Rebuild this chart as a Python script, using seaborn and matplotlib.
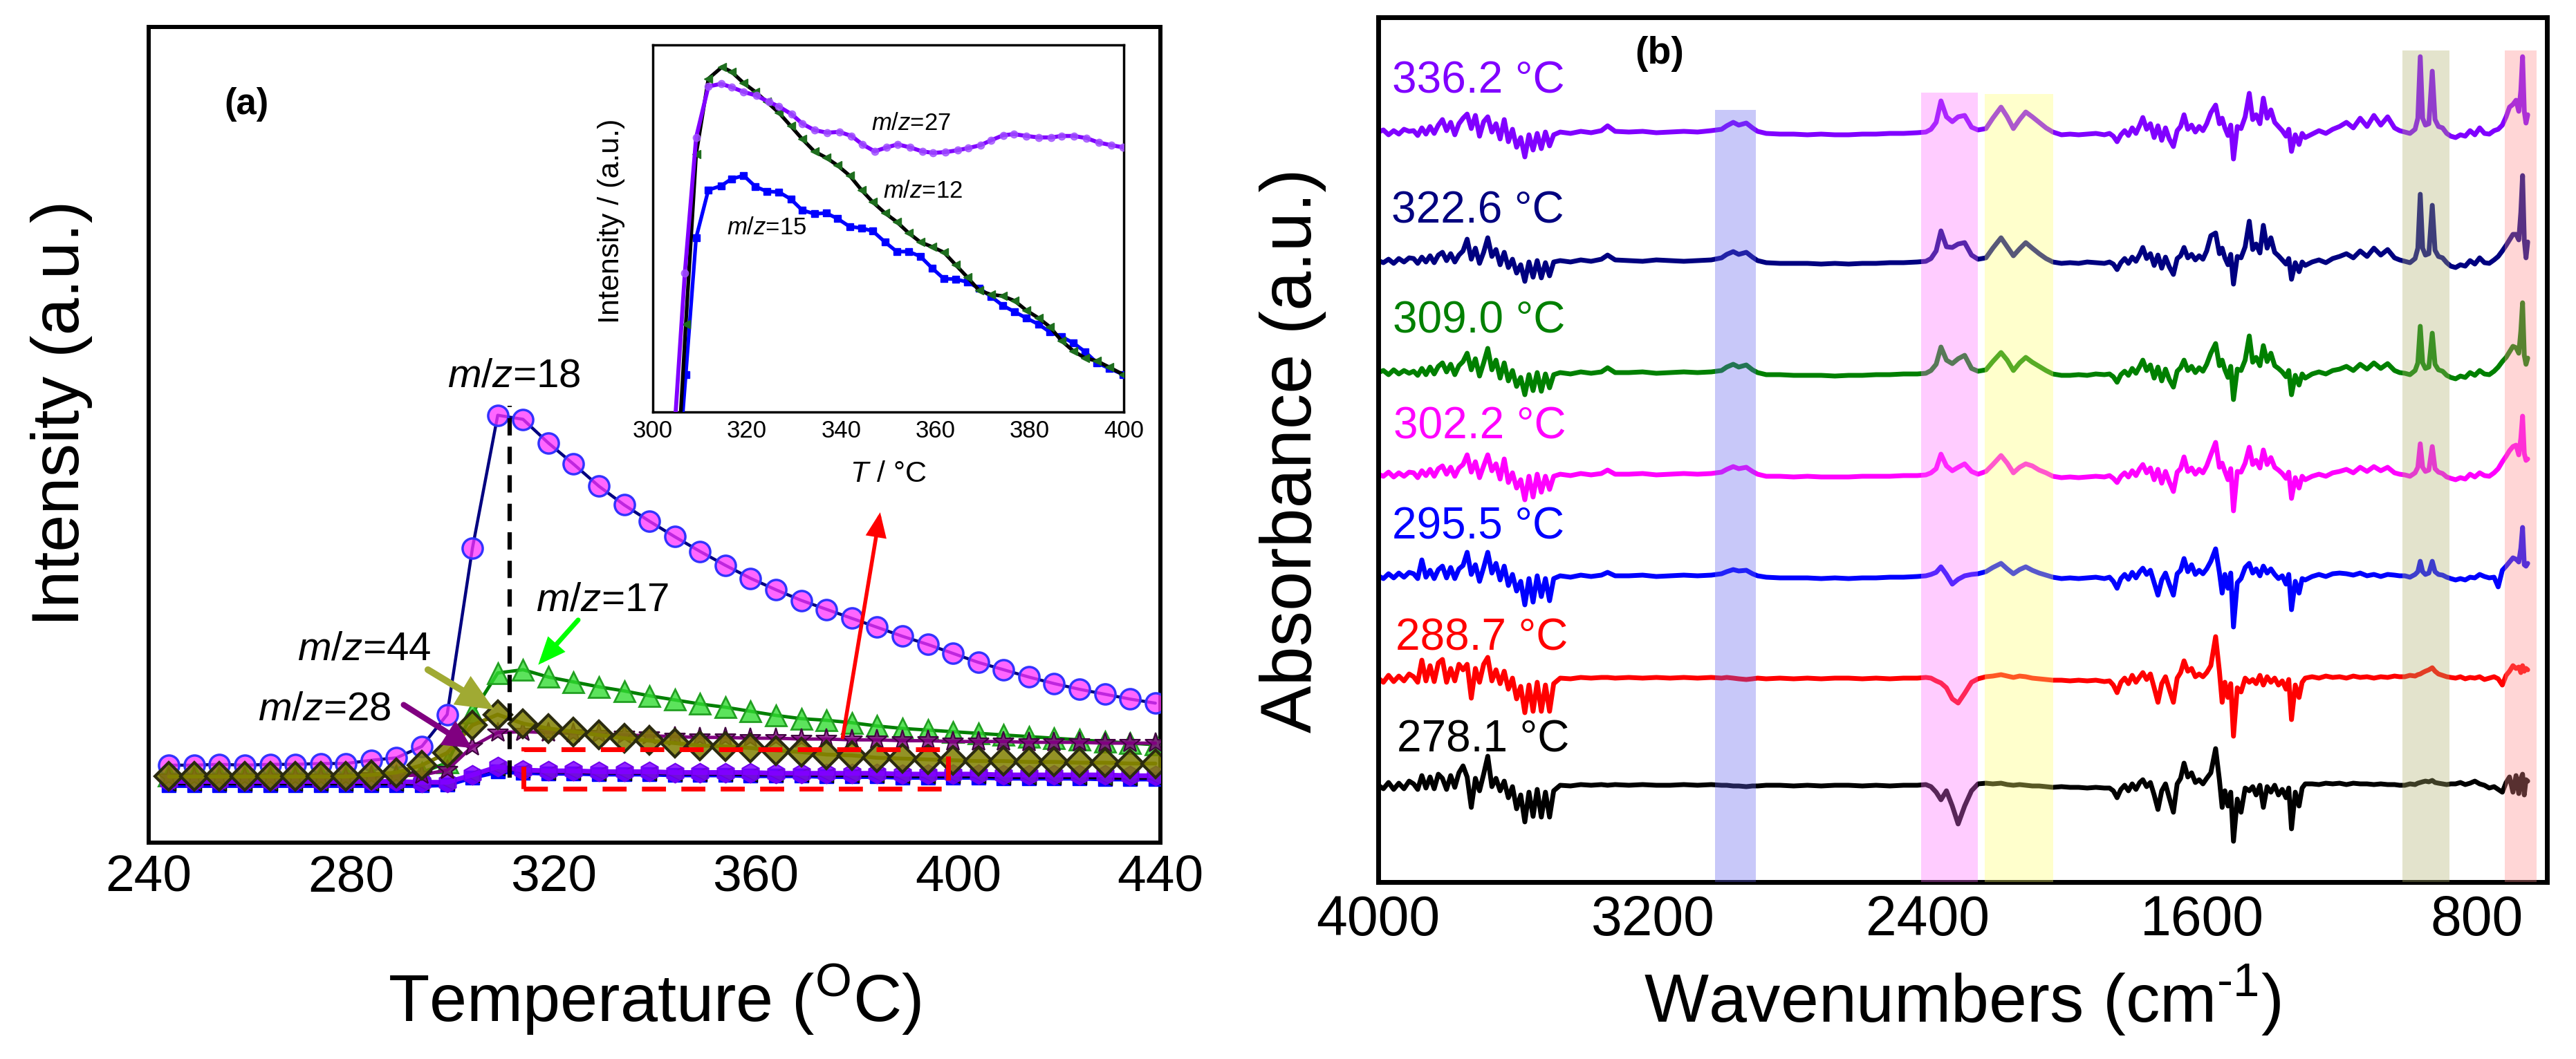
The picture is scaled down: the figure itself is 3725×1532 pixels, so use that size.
import matplotlib
matplotlib.use("Agg")
import matplotlib.pyplot as plt
import matplotlib.colors as mcolors
from matplotlib.patches import Rectangle
import seaborn as sns

# ------------------------------------------------------------------ data (a)
T_MAIN = [244, 249, 254, 259, 264, 269, 274, 279, 284, 289, 294, 299, 304, 309, 314, 319,
          324, 329, 334, 339, 344, 349, 354, 359, 364, 369, 374, 379, 384, 389, 394, 399,
          404, 409, 414, 419, 424, 429, 434, 439]
MZ18 = [9.5, 9.5, 9.6, 9.5, 9.6, 9.6, 9.7, 9.7, 10.1, 10.4, 11.8, 15.7, 36.1, 52.4, 51.9, 49.0,
        46.4, 43.7, 41.4, 39.4, 37.5, 35.7, 34.0, 32.4, 31.0, 29.7, 28.6, 27.5, 26.4, 25.3, 24.3, 23.2,
        22.1, 21.2, 20.3, 19.5, 18.8, 18.2, 17.6, 17.1]
MZ17 = [8.2, 8.2, 8.2, 8.2, 8.2, 8.2, 8.2, 8.2, 8.2, 8.2, 8.6, 9.8, 15.9, 20.8, 21.2, 20.3,
        19.7, 19.1, 18.6, 18.0, 17.5, 17.0, 16.6, 16.1, 15.6, 15.2, 15.0, 14.7, 14.3, 14.0, 13.8, 13.6,
        13.4, 13.2, 13.0, 12.8, 12.6, 12.4, 12.2, 12.0]
MZ44 = [8.1, 8.1, 8.1, 8.1, 8.1, 8.1, 8.1, 8.1, 8.3, 8.6, 9.5, 11.0, 14.4, 15.7, 14.6, 14.0,
        13.6, 13.2, 12.8, 12.5, 12.2, 11.9, 11.8, 11.6, 11.3, 11.1, 10.8, 10.7, 10.4, 10.3, 10.2, 10.1,
        10.0, 10.0, 9.9, 9.9, 9.8, 9.8, 9.7, 9.7]
MZ28 = [8.0, 8.0, 8.0, 8.0, 8.0, 8.0, 8.0, 8.0, 8.1, 8.2, 8.3, 8.9, 11.8, 13.5, 13.6, 13.5,
        13.4, 13.3, 13.2, 13.1, 13.0, 12.9, 12.9, 12.8, 12.8, 12.7, 12.7, 12.6, 12.6, 12.5, 12.5, 12.4,
        12.4, 12.4, 12.3, 12.3, 12.3, 12.2, 12.2, 12.2]
MZ27_MAIN = [7.5, 7.5, 7.5, 7.5, 7.5, 7.5, 7.5, 7.5, 7.5, 7.5, 7.4, 7.4, 8.3, 9.3, 8.9, 8.8,
             8.8, 8.7, 8.7, 8.7, 8.6, 8.6, 8.6, 8.6, 8.5, 8.5, 8.5, 8.5, 8.5, 8.4, 8.4, 8.4,
             8.4, 8.3, 8.3, 8.3, 8.3, 8.3, 8.2, 8.2]
MZ15_MAIN = [7.0, 7.0, 7.0, 7.0, 7.0, 7.0, 7.0, 7.0, 7.0, 7.0, 7.0, 7.1, 8.0, 8.7, 8.6, 8.5,
             8.5, 8.4, 8.4, 8.4, 8.3, 8.3, 8.3, 8.2, 8.2, 8.2, 8.1, 8.1, 8.1, 8.0, 8.0, 8.0,
             8.0, 7.9, 7.9, 7.9, 7.9, 7.8, 7.8, 7.8]
MZ12_MAIN = [7.2, 7.2, 7.2, 7.2, 7.2, 7.2, 7.2, 7.2, 7.2, 7.2, 7.2, 7.3, 8.2, 9.1, 8.8, 8.6,
             8.6, 8.5, 8.5, 8.5, 8.4, 8.4, 8.4, 8.3, 8.3, 8.3, 8.2, 8.2, 8.2, 8.1, 8.1, 8.1,
             8.1, 8.0, 8.0, 8.0, 8.0, 7.9, 7.9, 7.9]

# inset (a)
T27 = [304.7, 306.8, 309.2, 311.8, 314.5, 316.7, 319.3, 322.0, 324.6, 326.8, 329.5, 331.7, 334.3,
       337.0, 339.6, 342.2, 344.5, 347.1, 349.7, 352.0, 354.6, 357.2, 359.5, 362.1, 364.7, 367.0,
       369.6, 371.8, 374.4, 376.7, 379.3, 381.9, 384.6, 386.8, 389.4, 392.1, 394.7, 397.3, 399.9]
V27 = [-3, 37.8, 74.8, 88.7, 89.4, 88.5, 87.2, 86.2, 84.5, 83.2, 81.1, 78.6, 76.8,
       76.1, 76.3, 75.2, 72.9, 71.0, 72.1, 72.9, 72.1, 71.0, 70.6, 70.8, 71.3, 71.9,
       72.7, 74.0, 75.4, 75.7, 75.2, 74.8, 74.8, 75.2, 75.2, 74.6, 73.4, 72.7, 72.1]
T12 = [305.8, 307.0, 309.2, 311.8, 314.7, 316.7, 319.3, 321.8, 324.2, 326.8, 329.3, 331.7, 334.3,
       336.8, 339.2, 341.8, 344.3, 346.7, 349.3, 351.8, 354.3, 356.8, 359.3, 361.8, 364.3, 366.8,
       369.3, 371.8, 374.3, 376.8, 379.3, 381.9, 384.3, 386.8, 389.3, 391.8, 394.3, 396.9, 399.9]
V12 = [-3, 23.9, 70.2, 90.8, 94.0, 92.7, 89.6, 87.2, 84.5, 81.5, 77.9, 74.4, 71.0,
       69.3, 67.2, 64.4, 60.5, 57.2, 54.2, 51.8, 48.8, 46.3, 45.0, 43.5, 40.1, 36.7,
       33.1, 32.0, 31.6, 30.3, 27.7, 25.6, 23.2, 19.4, 16.6, 14.7, 13.9, 12.2, 10.2]
T15 = [306.2, 307.0, 309.2, 311.8, 314.5, 316.7, 319.3, 321.8, 324.2, 326.8, 329.3, 331.7, 334.3,
       336.8, 339.2, 341.8, 344.3, 346.7, 349.3, 351.8, 354.3, 356.8, 359.3, 361.8, 364.3, 366.8,
       369.3, 371.8, 374.3, 376.8, 379.3, 381.9, 384.3, 386.8, 389.3, 391.8, 394.3, 396.9, 399.9]
V15 = [-3, 10.2, 47.5, 60.5, 61.6, 63.5, 64.4, 61.4, 60.1, 59.9, 58.0, 55.0, 54.0,
       54.2, 52.7, 50.5, 50.1, 49.3, 46.3, 43.7, 43.7, 42.4, 39.2, 36.3, 36.2, 35.4,
       33.7, 31.5, 29.0, 27.3, 25.6, 23.9, 21.8, 20.5, 18.8, 16.4, 13.4, 11.9, 10.2]

# annotation geometry (a), data units
PEAK_LINE = ([311.3, 311.3], [8.0, 53.6])
ZOOM_BOX = (314.1, 6.6, 398.0, 11.4)
ARROWS = [  # (start T, start I, tip T, tip I, colour)
    (324.9, 27.3, 317.0, 21.8, "#00FF00"),
    (295.2, 21.2, 308.3, 16.3, "#A0AA33"),
    (290.4, 16.9, 303.9, 11.6, "#800080"),
    (377.2, 12.9, 384.6, 40.5, "#FF0000"),
]
MAIN_LABELS = [("18", 312.2, 57.2), ("17", 329.7, 29.7), ("44", 282.6, 23.7), ("28", 274.7, 16.3)]
INSET_LABELS = [("27", 354.8, 78.6), ("12", 357.3, 60.1), ("15", 324.2, 50.1)]

# ------------------------------------------------------------------ data (b)
WN = [4000, 3985, 3970, 3955, 3940, 3925, 3910,
      3897, 3885, 3873, 3861, 3849, 3837, 3825, 3813, 3801, 3789, 3777, 3765, 3753, 3741, 3729,
      3717, 3705, 3693, 3681, 3669, 3657, 3645, 3633, 3621, 3609, 3597, 3585, 3573, 3561, 3549,
      3537, 3525, 3513, 3501, 3489,
      3470, 3440, 3410, 3380, 3350, 3332, 3310, 3270, 3230, 3190, 3150, 3110, 3070, 3030, 3000,
      2985, 2966, 2950, 2928, 2910, 2895, 2870, 2830, 2790, 2750, 2710, 2670, 2630, 2590, 2550,
      2510, 2470, 2430, 2405,
      2390, 2375, 2361, 2345, 2328, 2311, 2292, 2272, 2253, 2230, 2210, 2186, 2168, 2150, 2132,
      2114, 2095, 2075, 2055, 2035, 2010, 1985, 1960, 1935, 1910, 1885,
      1870, 1859, 1848, 1837, 1826, 1815, 1804, 1793, 1782, 1773, 1762, 1751, 1740, 1729, 1718,
      1707, 1696, 1684, 1673, 1663, 1653, 1642, 1631, 1620, 1609, 1598, 1587, 1575, 1561, 1550,
      1542, 1534, 1525, 1517, 1509, 1498, 1487, 1475, 1463, 1453, 1443, 1432, 1422, 1411, 1400,
      1389, 1378, 1367, 1356, 1348, 1340, 1329, 1318, 1309, 1300,
      1280, 1260, 1240, 1220, 1200, 1180, 1160, 1140, 1120, 1100, 1080, 1060, 1040, 1025,
      1010, 995, 980, 972, 965, 958, 950, 940, 930, 922, 912, 900, 888, 876,
      862, 848, 834, 820, 806, 792, 778, 764, 750, 738, 726, 715, 705, 695, 686, 678, 672, 667,
      662, 657, 652]

S336 = ([0, 3, -4, 2, -3, 4, 1] +
        [2, -5, 6, -3, 8, -2, 10, 18, 2, 14, -4, 12, 20, 26, 5, 24, -6, 15, 22, 0, 12, -10, 18, -14,
         4, -22, -8, -36, -4, -26, -2, -24, 0, -20, -4] +
        [0, -2, 1, -1, 2, 9, 1, 0, 1, -1, 0, 1, 0, 2, 4, 9, 14, 10, 13, 6, 1, -2, -3, -3, -4, -3, -4,
         -4, -3, -3, -2, -2, -1, 0] +
        [4, 14, 45, 22, 15, 22, 24, 7, 3, 5, 20, 36, 22, 5, 18, 29, 22, 14, 6, 0, -4, -3, -4, -3, -2, -4] +
        [-2, -6, -14, -4, 2, -5, 6, -2, 10, 21, 4, 12, -8, 9, -12, 6, -10, -21, 2, 8, 25, 4, 10, 0, 8,
         2, 12, 28, 39, 12, 20, 6, -5, 10, -39, 8, 5, 22, 56, 18, 25, 12, 49, 20, 32, 14, 8, 2, -6, 4,
         -28, -4, -18, -2, -8] +
        [-3, 2, -2, 4, 8, 14, 6, 20, 8, 24, 10, 22, 6, 2] +
        [0, -2, 4, 20, 109, 20, 10, 12, 88, 18, 8, 6, -2, -6] +
        [-8, -4, -6, 2, -4, 6, -2, -3, 2, 4, 10, 22, 36, 40, 46, 30, 60, 109, 30, 13, 25])
S322 = ([0, -3, 2, -4, 3, -2, 4] +
        [3, -4, 5, -2, 7, -3, 8, 12, 0, 10, -2, 8, 14, 31, 2, 18, -4, 12, 33, 6, 16, -6, 12, -10, 2,
         -18, -6, -30, -2, -24, 0, -25, -3, -22, -2] +
        [0, -2, 1, -1, 2, 8, 1, 0, -1, 1, 0, -1, 0, 1, 4, 9, 13, 9, 12, 5, 0, -3, -4, -4, -4, -5, -4,
         -5, -4, -4, -3, -3, -2, -1] +
        [3, 14, 43, 20, 19, 24, 26, 8, 2, 4, 18, 33, 20, 7, 17, 26, 18, 10, 3, -2, -4, -3, -4, -2, -3, -4] +
        [-2, -5, -13, -3, 3, -4, 5, -1, 9, 19, 3, 10, -7, 8, -11, 5, -9, -20, 3, 7, 19, 4, 9, 1, 7, 2,
         14, 36, 40, 10, 18, 4, -6, 9, -34, 6, 4, 20, 57, 16, 24, 11, 51, 18, 33, 12, 7, 1, -5, 3,
         -27, -3, -16, -2, -7] +
        [-2, 1, -3, 3, 6, 10, 4, 14, 6, 18, 8, 16, 4, 1] +
        [-1, -3, 3, 18, 96, 18, 8, 10, 80, 15, 6, 4, -3, -8] +
        [-10, -6, -8, 0, -5, 4, -3, -4, 1, 6, 14, 22, 30, 38, 38, 30, 70, 123, 30, 4, 27])
S309 = ([0, 3, -3, 4, -2, 3, -1] +
        [2, -4, 6, -3, 8, -2, 9, 14, 1, 12, -3, 10, 16, 28, 4, 20, -5, 14, 35, 4, 18, -8, 14, -12, 3,
         -20, -7, -32, -3, -26, 0, -27, -2, -22, -3] +
        [0, -2, 1, -1, 1, 7, 0, 0, 1, -1, 0, 1, 0, 1, 3, 8, 12, 8, 11, 4, 0, -3, -3, -4, -4, -4, -5,
         -4, -4, -3, -3, -2, -2, -1] +
        [3, 12, 37, 18, 13, 20, 25, 6, 2, 4, 16, 29, 18, 3, 14, 22, 15, 9, 3, -2, -4, -4, -3, -4, -2, -3] +
        [-2, -6, -14, -3, 2, -4, 6, -1, 9, 18, 3, 11, -8, 8, -12, 5, -10, -21, 2, 7, 18, 3, 9, 0, 7, 2,
         12, 28, 42, 10, 18, 4, -7, 9, -39, 5, 3, 18, 53, 15, 22, 10, 39, 16, 28, 10, 6, 1, -6, 3,
         -32, -4, -18, -2, -8] +
        [-2, 1, -2, 3, 5, 9, 3, 12, 5, 14, 6, 13, 3, 0] +
        [-1, -3, 3, 14, 67, 14, 6, 8, 57, 12, 4, 2, -4, -7] +
        [-9, -5, -7, 0, -4, 3, -2, -3, 2, 8, 16, 22, 30, 38, 36, 28, 60, 101, 25, 12, 21])
S302 = ([0, -3, 3, -4, 2, -3, 3] +
        [2, -5, 5, -2, 7, -3, 8, 12, 0, 10, -3, 9, 14, 28, 3, 18, -5, 12, 28, 5, 15, -7, 22, -12, 2,
         -20, -8, -37, -3, -33, 0, -26, -3, -22, -3] +
        [0, -2, 1, -1, 1, 6, 0, 0, 1, -1, 0, 1, 0, 1, 3, 7, 11, 8, 10, 4, 0, -3, -3, -4, -3, -4, -4,
         -4, -3, -3, -3, -2, -2, -1] +
        [2, 8, 29, 12, 5, 10, 15, 4, 0, 4, 14, 27, 16, 2, 10, 15, 12, 6, 2, -3, -5, -4, -5, -4, -3, -4] +
        [-2, -6, -12, -3, 2, -4, 5, -2, 8, 14, 2, 9, -8, 7, -13, 4, -11, -25, 3, 8, 25, 4, 9, 0, 7, 2,
         12, 28, 46, 10, 16, 4, -8, 8, -53, 4, 3, 16, 39, 14, 20, 9, 35, 14, 24, 10, 6, 1, -6, 3,
         -35, -5, -20, -3, -8] +
        [-3, 0, -3, 2, 4, 7, 2, 10, 4, 11, 5, 10, 2, 0] +
        [-1, -3, 2, 10, 44, 10, 4, 6, 40, 8, 3, 1, -4, -6] +
        [-8, -5, -7, 0, -4, 2, -2, -3, 2, 8, 18, 26, 34, 40, 42, 28, 52, 84, 30, 20, 22])
S295 = ([0, -4, 3, -3, 4, -2, 5] +
        [3, -4, 23, -2, 8, -4, 9, 14, -3, 12, -4, 10, 15, 34, 2, 16, -8, 12, 34, 4, 18, -6, 14, -14, 2,
         -22, -8, -42, -4, -38, 0, -30, -4, -36, -4] +
        [0, -2, 1, -1, 1, 5, 0, 0, 1, -1, 0, 1, 0, 1, 3, 6, 9, 7, 8, 3, 0, -2, -3, -3, -3, -4, -3,
         -4, -3, -3, -2, -2, -1, 0] +
        [2, 5, 13, 2, -12, -5, 0, 2, 3, 6, 12, 18, 10, 3, 9, 13, 8, 4, 1, -2, -4, -3, -4, -3, -2, -4] +
        [-2, -8, -18, -4, 2, -5, 5, -3, 6, 11, 2, 8, -10, -28, -6, 4, -12, -28, 3, 8, 25, 6, 16, 2, 8,
         3, 10, 21, 39, 5, -25, 2, -18, 4, -74, -10, -4, 12, 18, 4, 10, 0, 14, 4, 10, 2, -4, 0, -12, 2,
         -49, -8, -25, -4, -6] +
        [-1, 2, -1, 3, 4, 3, 1, 4, 0, 2, -1, 2, 1, 0] +
        [0, -2, 2, 6, 21, 6, 2, 4, 21, 6, 2, 1, -2, -4] +
        [-6, -4, -6, -2, -3, 2, -1, -3, -2, -16, 8, 14, 20, 26, 24, 20, 40, 70, 16, 14, 18])
S288 = ([0, -6, 4, -5, 3, -4, 6] +
        [2, -6, 26, -4, 18, -5, 22, 27, -6, 14, -4, 20, 12, 20, -29, 14, -6, 20, 30, -4, 12, -8, 10,
         -16, 0, -30, -12, -50, -10, -48, -6, -48, -10, -48, -8] +
        [0, -1, 1, 0, 1, 1, 0, 1, 0, 1, 0, 1, 0, 1, 0, 1, 0, -1, -2, -1, 0, -1, 0, -1, 0, -1, 0, 0,
         -1, 0, -1, 0, 0, 1] +
        [0, -4, -7, -14, -30, -36, -22, -6, -1, 2, 3, 5, 3, 1, 3, 2, 0, -1, -2, -3, -3, -4, -3, -4, -3, -5] +
        [-4, -10, -21, -6, 0, -8, 4, -6, 2, 8, -2, 6, -14, -35, -8, 2, -16, -35, 0, 8, 25, 10, 14, 2, 6,
         2, 8, 18, 60, 10, -35, -6, -28, -8, -84, -14, -20, 0, -6, -2, -8, 4, -10, 2, -6, 0, -10, -4,
         -16, -2, -60, -10, -28, -6, 0] +
        [2, 0, 3, 1, 2, 0, 3, 1, 2, 0, 2, 1, 3, 2] +
        [2, 4, 3, 5, 6, 8, 10, 12, 15, 10, 6, 4, 2, 1] +
        [0, 2, -1, 1, 0, 2, -2, 0, 2, -1, -10, 4, 10, 18, 14, 16, 8, 18, 10, 14, 12])
S278 = ([0, -5, 4, -6, 3, -5, 6] +
        [2, -6, 14, -4, 12, -5, 16, 10, -6, 14, -3, 18, 28, 12, -32, 10, -8, 16, 42, -2, 10, -8, 6,
         -18, -2, -34, -14, -53, -10, -45, -6, -46, -10, -46, -8] +
        [0, -1, 1, 0, 1, 0, 1, 0, 1, 0, 0, 1, 0, 1, 0, 0, -1, -1, -2, -1, -1, 0, 0, -1, 0, -1, 0, 0,
         -1, 0, -1, 0, 0, 1] +
        [-2, -10, -21, -8, -30, -56, -30, -8, 2, 3, 2, 3, 1, 0, 1, 0, -1, -1, -2, -3, -2, -3, -3, -4, -3, -4] +
        [-4, -8, -18, -6, 0, -8, 2, -6, 4, 8, -2, 4, -14, -35, -8, 2, -18, -39, 2, 10, 32, 12, 18, 4, 8,
         2, 10, 18, 53, 8, -32, -8, -30, -10, -81, -20, -39, -4, -8, -2, -14, 0, -32, -2, -10, 0, -14,
         -6, -18, -4, -63, -10, -30, -4, 2] +
        [2, 1, 3, 2, 3, 1, 3, 2, 2, 1, 2, 1, 1, 0] +
        [0, 2, 1, 3, 4, 5, 6, 5, 7, 4, 3, 2, 1, 2] +
        [2, 4, 1, 3, 6, 2, 0, -4, -2, -6, -10, 4, 12, -10, 14, -12, 10, 16, -14, 8, 6])

TEMPS = ["336.2 °C", "322.6 °C", "309.0 °C", "302.2 °C", "295.5 °C", "288.7 °C", "278.1 °C"]
TRACE_COLORS = ["#8000FF", "#000080", "#008000", "#FF00FF", "#0000FF", "#FF0000", "#000000"]
TRACE_OFFSETS = [1085, 899, 737, 590, 443, 295, 140]
TRACES = [S336, S322, S309, S302, S295, S288, S278]
LABEL_POS = [(3960, 1159), (3962, 971), (3958, 812), (3955, 659), (3960, 514), (3950, 353), (3946, 206)]
BANDS = [  # (high wn, low wn, top fraction, colour)
    (3020, 2900, 0.893, "#6262F0"),
    (2419, 2253, 0.913, "#FF6DFF"),
    (2234, 2035, 0.911, "#FFFF6D"),
    (1016, 879, 0.962, "#B1B16D"),
    (718, 627, 0.962, "#FF8A8A"),
]
for tr in TRACES:
    assert len(tr) == len(WN), len(tr)

# ------------------------------------------------------------------ style
sns.set_theme(style="white")
plt.rcParams["font.family"] = ["Liberation Sans", "DejaVu Sans"]
plt.rcParams["mathtext.fontset"] = "custom"
plt.rcParams["mathtext.rm"] = "Liberation Sans"
plt.rcParams["mathtext.it"] = "Liberation Sans:italic"
plt.rcParams["mathtext.bf"] = "Liberation Sans:bold"
for key in ["text.color", "axes.labelcolor", "xtick.color", "ytick.color", "axes.edgecolor"]:
    plt.rcParams[key] = "black"

fig = plt.figure(figsize=(37.25, 15.32), dpi=100)
fig.patch.set_facecolor("white")
axA = fig.add_axes([0.05772, 0.20431, 0.39275, 0.77023])
axI = fig.add_axes([0.25342, 0.61097, 0.18282, 0.34660])
axB = fig.add_axes([0.53503, 0.16710, 0.45369, 0.81658])


def rgba(c, a):
    return mcolors.to_rgba(c, a)


def series(ax, x, y, color, lw, marker, ms, mfc, mec, mew, z):
    sns.lineplot(x=x, y=y, ax=ax, color=color, lw=lw, marker=marker, markersize=ms,
                 markerfacecolor=mfc, markeredgecolor=mec, markeredgewidth=mew,
                 zorder=z, errorbar=None, legend=False, sort=False)


# ------------------------------------------------------------------ panel (a)
series(axA, T_MAIN, MZ18, "#000080", 3.2, "o", 21, rgba("#FF33FF", 0.75), "#3333FF", 2.5, 3)
series(axA, T_MAIN, MZ17, "#008000", 3.5, "^", 22, rgba("#33DD33", 0.8), "#22A022", 2.0, 4)
series(axA, T_MAIN, MZ15_MAIN, "#0000FF", 5, "s", 15, "#0000FF", "#0000FF", 1, 5)
series(axA, T_MAIN, MZ12_MAIN, "#000000", 3, "<", 14, "#1E5E1E", "#000000", 1, 5)
series(axA, T_MAIN, MZ27_MAIN, "#8000FF", 5, "h", 20, rgba("#8000FF", 0.85), "#7000EE", 1.5, 6)
series(axA, T_MAIN, MZ28, "#800080", 3.5, "*", 22, rgba("#800080", 0.8), "#400040", 1.5, 7)
series(axA, T_MAIN, MZ44, "#808000", 4, "D", 20, rgba("#808000", 0.85), "#2B2B10", 3, 8)

axA.plot(PEAK_LINE[0], PEAK_LINE[1], color="black", lw=4.5, ls=(0, (4, 2.6)), zorder=9)
bx0, by0, bx1, by1 = ZOOM_BOX
axA.add_patch(Rectangle((bx0, by0), bx1 - bx0, by1 - by0, fill=False, ec="#FF0000",
                        lw=5, ls=(0, (5, 3.2)), zorder=10))
# (shaft width, head length, head half-width) in points/20
arrow_specs = [(5.0, 1.0, 0.42), (7.0, 1.35, 0.6), (6.0, 1.0, 0.5), (4.0, 0.95, 0.4)]
for (sx, sy, tx, ty, c), (lw, hl, hw) in zip(ARROWS, arrow_specs):
    axA.annotate("", xy=(tx, ty), xytext=(sx, sy),
                 arrowprops=dict(arrowstyle=f"-|>,head_length={hl},head_width={hw}",
                                 color=c, lw=lw, mutation_scale=20, shrinkA=0, shrinkB=0,
                                 joinstyle="miter"),
                 zorder=11)
for mz, tx, ty in MAIN_LABELS:
    axA.text(tx, ty, r"$\mathit{m/z}$=" + mz, fontsize=42, ha="center", va="center", zorder=12)
axA.text(259.3, 90.5, "(a)", fontsize=38, fontweight="bold", ha="center", va="center")

axA.set_xlim(240, 440)
axA.set_ylim(0, 100)
axA.set_xticks([240, 280, 320, 360, 400, 440])
axA.set_yticks([])
axA.tick_params(axis="x", direction="in", length=16, width=4.3, labelsize=54, pad=12)
for s in axA.spines.values():
    s.set_linewidth(4.3)
    s.set_color("black")
axA.set_xlabel(r"Temperature ($^{\mathrm{O}}$C)", fontsize=70, va="center")
axA.xaxis.set_label_coords(0.5, -0.1924)
axA.set_ylabel("Intensity (a.u.)", fontsize=70, va="center")
axA.yaxis.set_label_coords(-0.0861, 0.526)

# inset
series(axI, T15, V15, "#0000FF", 3.8, "s", 6.5, "#0000FF", "#0000FF", 1, 3)
series(axI, T12, V12, "#000000", 3.8, "<", 8, "#1E6E1E", "#1E6E1E", 1, 4)
series(axI, T27, V27, "#8000FF", 4.2, "o", 7.5, rgba("#A050FF", 0.8), rgba("#A050FF", 0.8), 1, 5)
for mz, tx, ty in INSET_LABELS:
    axI.text(tx, ty, r"$\mathit{m/z}$=" + mz, fontsize=25, ha="center", va="center", zorder=8)
axI.set_xlim(300, 400)
axI.set_ylim(0, 100)
axI.set_xticks([300, 320, 340, 360, 380, 400])
axI.set_xticks([310, 330, 350, 370, 390], minor=True)
axI.set_yticks([])
axI.tick_params(axis="x", which="major", direction="in", length=7, width=1.8, labelsize=25, pad=8)
axI.tick_params(axis="x", which="minor", direction="in", length=5, width=1.8)
for s in axI.spines.values():
    s.set_linewidth(2.5)
    s.set_color("black")
axI.set_xlabel(r"$\mathit{T}$ / °C", fontsize=31, va="center")
axI.xaxis.set_label_coords(0.5, -0.1695)
axI.set_ylabel("Intensity / (a.u.)", fontsize=31, va="center")
axI.yaxis.set_label_coords(-0.088, 0.52)

# ------------------------------------------------------------------ panel (b)
for vals, off, c in zip(TRACES, TRACE_OFFSETS, TRACE_COLORS):
    sns.lineplot(x=WN, y=[v + off for v in vals], ax=axB, color=c, lw=5.0,
                 errorbar=None, legend=False, sort=False, zorder=2)
for hi, lo, top, c in BANDS:
    axB.axvspan(lo, hi, ymin=0, ymax=top, color=c, alpha=0.35, lw=0, zorder=3)
for lab, (lx, ly), c in zip(TEMPS, LABEL_POS, TRACE_COLORS):
    axB.text(lx, ly, lab, color=c, fontsize=46, ha="left", va="center", zorder=5)
axB.text(3181, 1198, "(b)", fontsize=40, fontweight="bold", ha="center", va="center", zorder=5)

axB.set_xlim(4000, 596)
axB.set_ylim(0, 1251)
axB.set_xticks([4000, 3200, 2400, 1600, 800])
axB.set_yticks([])
axB.tick_params(axis="x", direction="in", length=16, width=4.5, labelsize=58, pad=13)
for s in axB.spines.values():
    s.set_linewidth(5)
    s.set_color("black")
axB.set_xlabel("Wavenumbers (cm$^{\\mathrm{\u2010}1}$)", fontsize=71, va="center")
axB.xaxis.set_label_coords(0.5, -0.1359)
axB.set_ylabel("Absorbance (a.u.)", fontsize=74, va="center")
axB.yaxis.set_label_coords(-0.0728, 0.4988)

fig.savefig("out.png", dpi=100, facecolor="white")
